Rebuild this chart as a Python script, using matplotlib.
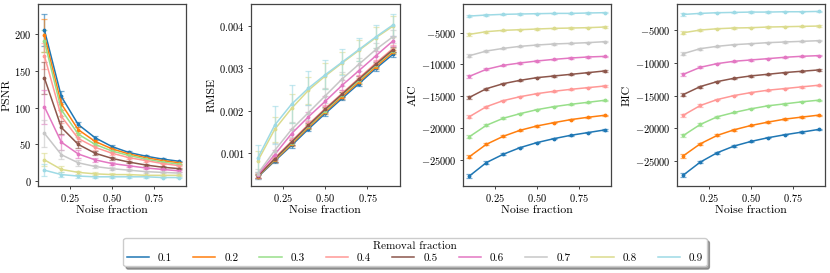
import matplotlib
matplotlib.use("Agg")
import matplotlib.pyplot as plt
from matplotlib.lines import Line2D
import numpy as np

plt.rcParams['font.family'] = ['cmr10', 'DejaVu Serif']
plt.rcParams['mathtext.fontset'] = 'cm'
plt.rcParams['axes.formatter.use_mathtext'] = True
plt.rcParams['axes.unicode_minus'] = True

noise = [0.1, 0.2, 0.3, 0.4, 0.5, 0.6, 0.7, 0.8, 0.9]
removal = ['0.1', '0.2', '0.3', '0.4', '0.5', '0.6', '0.7', '0.8', '0.9']

psnr = [
    [205, 115, 77, 59, 47, 39, 34, 30, 27],
    [198, 105, 70, 54, 44, 37, 32, 28, 25],
    [190, 97, 64, 50, 41, 35, 30, 26, 23],
    [170, 88, 58, 46, 38, 32, 28, 24, 21],
    [140, 73, 50, 38, 31, 26, 22, 19, 17],
    [101, 53, 37, 29, 24, 21, 18, 16, 14],
    [65, 36, 25, 20, 17, 15, 13, 12, 11],
    [29, 16, 12, 10, 9, 9, 8, 8, 8],
    [15, 9, 7, 6, 6, 6, 6, 5, 5],
]
psnr_err = [
    [22, 7, 4, 2.5, 2, 1.5, 1.5, 1.2, 1.0],
    [22, 8, 4, 2.5, 2, 1.5, 1.5, 1.2, 1.0],
    [15, 8, 4, 2.5, 2, 1.5, 1.5, 1.2, 1.0],
    [18, 9, 5, 3, 2, 1.5, 1.5, 1.2, 1.0],
    [22, 9, 5, 3, 2, 1.5, 1.5, 1.2, 1.0],
    [23, 10, 5, 3, 2, 1.5, 1.5, 1.2, 1.0],
    [18, 6, 4, 2.5, 2, 1.5, 1.2, 1.0, 1.0],
    [9, 4, 2.5, 2, 1.5, 1.2, 1.0, 1.0, 1.0],
    [8, 3, 2, 1.5, 1.2, 1.0, 1.0, 1.0, 1.0],
]

rmse = [
    [0.00042, 0.00080, 0.00117, 0.00156, 0.00193, 0.00229, 0.00264, 0.00300, 0.00333],
    [0.00043, 0.00082, 0.00120, 0.00160, 0.00197, 0.00233, 0.00268, 0.00304, 0.00338],
    [0.00044, 0.00084, 0.00123, 0.00163, 0.00200, 0.00237, 0.00272, 0.00308, 0.00342],
    [0.00045, 0.00087, 0.00127, 0.00167, 0.00205, 0.00241, 0.00277, 0.00313, 0.00347],
    [0.00044, 0.00085, 0.00125, 0.00165, 0.00203, 0.00239, 0.00275, 0.00310, 0.00344],
    [0.00047, 0.00095, 0.00145, 0.00185, 0.00222, 0.00260, 0.00295, 0.00330, 0.00365],
    [0.00050, 0.00105, 0.00155, 0.00195, 0.00235, 0.00275, 0.00310, 0.00345, 0.00375],
    [0.00080, 0.00155, 0.00205, 0.00248, 0.00282, 0.00313, 0.00343, 0.00373, 0.00400],
    [0.00087, 0.00165, 0.00215, 0.00253, 0.00285, 0.00315, 0.00345, 0.00375, 0.00403],
]
rmse_err = [
    [0.00004, 0.00005, 0.00005, 0.00005, 0.00005, 0.00005, 0.00005, 0.00005, 0.00005],
    [0.00004, 0.00005, 0.00005, 0.00005, 0.00005, 0.00005, 0.00005, 0.00005, 0.00005],
    [0.00005, 0.00006, 0.00006, 0.00006, 0.00006, 0.00006, 0.00006, 0.00006, 0.00006],
    [0.00006, 0.00008, 0.00008, 0.00008, 0.00008, 0.00008, 0.00008, 0.00008, 0.00008],
    [0.00005, 0.00006, 0.00006, 0.00006, 0.00006, 0.00006, 0.00006, 0.00006, 0.00006],
    [0.00008, 0.00012, 0.00012, 0.00012, 0.00012, 0.00012, 0.00012, 0.00012, 0.00012],
    [0.00012, 0.00018, 0.00018, 0.00018, 0.00018, 0.00016, 0.00015, 0.00015, 0.00015],
    [0.00025, 0.00030, 0.00035, 0.00032, 0.00030, 0.00027, 0.00025, 0.00025, 0.00025],
    [0.00032, 0.00045, 0.00045, 0.00040, 0.00035, 0.00031, 0.00028, 0.00027, 0.00027],
]

aic = [
    [-27560, -25460, -24150, -23100, -22310, -21690, -21160, -20740, -20320],
    [-24520, -22580, -21320, -20370, -19690, -19170, -18690, -18330, -18010],
    [-21370, -19590, -18480, -17750, -17120, -16650, -16280, -15970, -15650],
    [-18220, -16650, -15700, -15080, -14600, -14230, -13920, -13660, -13400],
    [-15180, -13820, -13030, -12500, -12080, -11820, -11560, -11300, -11030],
    [-11870, -10770, -10140, -9770, -9460, -9200, -8990, -8830, -8730],
    [-8620, -7890, -7470, -7150, -6940, -6780, -6680, -6570, -6420],
    [-5260, -4840, -4630, -4530, -4420, -4320, -4270, -4210, -4110],
    [-2380, -2220, -2110, -2060, -2010, -1960, -1960, -1900, -1850],
]
bic = [
    [-27140, -25160, -23730, -22710, -22000, -21440, -20980, -20580, -20170],
    [-24190, -22360, -21080, -20220, -19560, -19050, -18590, -18280, -17980],
    [-21080, -19400, -18230, -17570, -17010, -16550, -16250, -15940, -15690],
    [-17980, -16500, -15590, -14980, -14520, -14160, -13910, -13650, -13400],
    [-14820, -13600, -12840, -12330, -11970, -11720, -11460, -11260, -11060],
    [-11720, -10650, -10090, -9730, -9530, -9330, -9120, -8970, -8870],
    [-8560, -7800, -7440, -7190, -7040, -6880, -6780, -6680, -6580],
    [-5360, -4950, -4750, -4640, -4590, -4490, -4440, -4390, -4340],
    [-2560, -2400, -2300, -2250, -2200, -2200, -2150, -2150, -2100],
]
ic_err = [
    [300, 200, 150, 120, 100, 100, 100, 100, 100],
    [280, 180, 140, 110, 100, 100, 100, 100, 100],
    [260, 170, 130, 100, 100, 100, 100, 100, 100],
    [240, 160, 120, 100, 100, 100, 100, 100, 100],
    [220, 150, 110, 100, 100, 100, 100, 100, 100],
    [220, 150, 110, 100, 100, 100, 100, 100, 100],
    [200, 140, 100, 100, 100, 100, 100, 100, 100],
    [200, 140, 100, 100, 100, 100, 100, 100, 100],
    [180, 120, 100, 100, 100, 100, 100, 100, 100],
]

cmap = plt.get_cmap('tab20')
colors = cmap(np.linspace(0, 1, len(removal)))

fig = plt.figure(figsize=(8.3, 2.73), dpi=100)
lefts = [0.0454, 0.3024, 0.5575, 0.8153]
axes = [fig.add_axes([l, 0.320, 0.179, 0.664]) for l in lefts]

panels = [(psnr, psnr_err, 'PSNR'), (rmse, rmse_err, 'RMSE'),
          (aic, ic_err, 'AIC'), (bic, ic_err, 'BIC')]

for ax, (vals, errs, name) in zip(axes, panels):
    for i in range(len(removal)):
        ax.errorbar(noise, vals[i], yerr=errs[i], color=colors[i], lw=1.1,
                    marker='.', ms=3.5, capsize=2.2, elinewidth=1.0,
                    ecolor=(*colors[i][:3], 0.6), capthick=0.9)
    ax.set_xlabel('Noise fraction', fontsize=8.5, labelpad=1)
    ax.set_ylabel(name, fontsize=8.5, labelpad=2)
    ax.set_xticks([0.25, 0.5, 0.75])
    ax.tick_params(labelsize=7.5, length=2.5, width=0.7, pad=2, color='#444444')
    for s in ax.spines.values():
        s.set_color('#444444')
        s.set_linewidth(0.9)

axes[0].set_ylim(-6, 240)
axes[1].set_ylim(0.000217, 0.00452)
axes[2].set_ylim(-29090, -540)
axes[3].set_ylim(-28770, -1020)

handles = [Line2D([], [], color=colors[i], lw=1.1) for i in range(len(removal))]
leg = fig.legend(handles, removal, loc='upper center', bbox_to_anchor=(0.5, 0.148),
                 ncol=9, title='Removal fraction', fontsize=8, title_fontsize=8,
                 fancybox=True, shadow=True, handlelength=2.0, columnspacing=1.9,
                 borderpad=0.3, handletextpad=0.8, labelspacing=0.2)

fig.savefig('out.png', dpi=100)
